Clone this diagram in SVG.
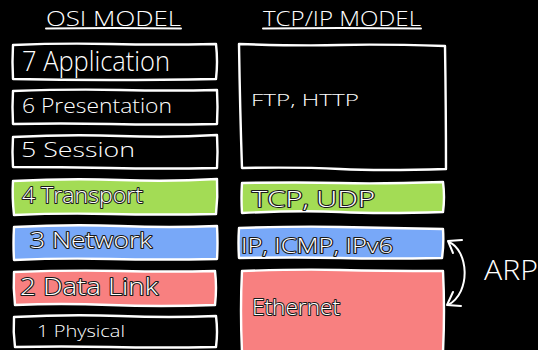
<svg xmlns="http://www.w3.org/2000/svg" width="538" height="350" viewBox="0 0 538 350">
  <style>
    .box { stroke: #fff; stroke-width: 2.4; stroke-linejoin: round; stroke-linecap: round; }
    .dark { fill: #000; }
    .green { fill: #a3dc55; }
    .blue { fill: #78a8f8; }
    .red { fill: #f88080; }
    .lbl { font-family: "Open Sans", "Liberation Sans", sans-serif; font-weight: 300; fill: #fff; }
    .out { stroke: #1a1a1a; stroke-width: 2; paint-order: stroke; stroke-linejoin: round; }
    .title { font-family: "Open Sans", "Liberation Sans", sans-serif; font-weight: 300; fill: #fff; }
    .line { fill: none; stroke: #fff; stroke-width: 2; stroke-linecap: round; stroke-linejoin: round; }
  </style>
  <rect width="538" height="350" fill="#000"/>

  <!-- column headings -->
  <g id="osi-title">
    <text class="title" x="46" y="26" font-size="20" textLength="135" lengthAdjust="spacingAndGlyphs">OSI MODEL</text>
    <path class="line" d="M46,28.5 L113,28 L181,28.5"/>
  </g>
  <g id="tcpip-title">
    <text class="title" x="263" y="26" font-size="20" textLength="158" lengthAdjust="spacingAndGlyphs">TCP/IP MODEL</text>
    <path class="line" d="M263,28.5 L340,28 L421,28.5"/>
  </g>

  <!-- OSI layers -->
  <g id="osi-7">
    <path class="box dark" d="M13,45 Q60,43 110,44 T216,44 Q218,62 216,79 Q160,80 110,80 T13,79 Q12,62 13,45 Z"/>
    <text class="lbl" x="22" y="71" font-size="27" textLength="148" lengthAdjust="spacingAndGlyphs">7 Application</text>
  </g>
  <g id="osi-6">
    <path class="box dark" d="M13,91 Q70,89 120,90 T217,90 Q218,107 217,124 Q160,125 110,124 T13,124 Q12,107 13,91 Z"/>
    <text class="lbl" x="22" y="113" font-size="20" textLength="150" lengthAdjust="spacingAndGlyphs">6 Presentation</text>
  </g>
  <g id="osi-5">
    <path class="box dark" d="M13,137 Q70,134 120,136 T217,135 Q218,152 217,168 Q160,169 110,168 T13,167 Q12,152 13,137 Z"/>
    <text class="lbl" x="21" y="157" font-size="21" textLength="114" lengthAdjust="spacingAndGlyphs">5 Session</text>
  </g>
  <g id="osi-4">
    <path class="box green" d="M13,181 Q70,178 120,180 T217,179 Q218,197 216,214 Q160,215 110,214 T14,215 Q12,197 13,181 Z"/>
    <text class="lbl out" x="22" y="203" font-size="22" textLength="121" lengthAdjust="spacingAndGlyphs">4 Transport</text>
  </g>
  <g id="osi-3">
    <path class="box blue" d="M14,227 Q70,224 120,226 T217,226 Q218,243 217,259 Q160,260 110,259 T14,260 Q13,243 14,227 Z"/>
    <text class="lbl out" x="30" y="248" font-size="22" textLength="122" lengthAdjust="spacingAndGlyphs">3 Network</text>
  </g>
  <g id="osi-2">
    <path class="box red" d="M14,272 Q70,270 120,271 T215,271 Q217,288 215,305 Q160,307 110,305 T15,305 Q13,288 14,272 Z"/>
    <text class="lbl out" x="20" y="295" font-size="23" textLength="138" lengthAdjust="spacingAndGlyphs">2 Data Link</text>
  </g>
  <g id="osi-1">
    <path class="box dark" d="M14,317 Q70,314 120,316 T216,316 Q218,332 216,347 Q160,348 110,347 T15,347 Q13,332 14,317 Z"/>
    <text class="lbl" x="37" y="337" font-size="17" textLength="88" lengthAdjust="spacingAndGlyphs">1 Physical</text>
  </g>

  <!-- TCP/IP layers -->
  <g id="tcpip-application">
    <path class="box dark" d="M239,44 Q300,46 340,45 T445,46 Q446,110 446,169 Q380,171 340,169 T242,168 Q240,110 239,44 Z"/>
    <text class="lbl" x="251" y="106" font-size="17" textLength="108" lengthAdjust="spacingAndGlyphs">FTP, HTTP</text>
  </g>
  <g id="tcpip-transport">
    <path class="box green" d="M242,183 Q300,182 340,183 T443,182 Q445,197 443,212 Q380,214 340,212 T242,213 Q241,198 242,183 Z"/>
    <text class="lbl out" x="252" y="207" font-size="22" textLength="123" lengthAdjust="spacingAndGlyphs">TCP, UDP</text>
  </g>
  <g id="tcpip-internet">
    <path class="box blue" d="M239,228 Q300,226 340,227 T443,229 Q444,244 442,258 Q380,259 340,258 T239,258 Q238,243 239,228 Z"/>
    <text class="lbl out" x="241" y="253" font-size="20" textLength="152" lengthAdjust="spacingAndGlyphs">IP, ICMP, IPv6</text>
  </g>
  <g id="tcpip-link">
    <path class="box red" d="M242,271 Q300,269 340,270 T443,271 Q445,310 443,352 L242,352 Q240,310 242,271 Z"/>
    <text class="lbl out" x="252" y="315" font-size="22" textLength="88" lengthAdjust="spacingAndGlyphs">Ethernet</text>
  </g>

  <!-- ARP relation between link and internet layers -->
  <g id="connectors">
    <path class="line" d="M449,242 C468,250 472,292 448,305"/>
    <path class="line" d="M462,240 L448,241 L453,253"/>
    <path class="line" d="M453,292 L447,305 L461,306"/>
  </g>
  <g id="arp-label">
    <text class="title" x="484" y="280" font-size="28" textLength="54" lengthAdjust="spacingAndGlyphs">ARP</text>
  </g>
</svg>
